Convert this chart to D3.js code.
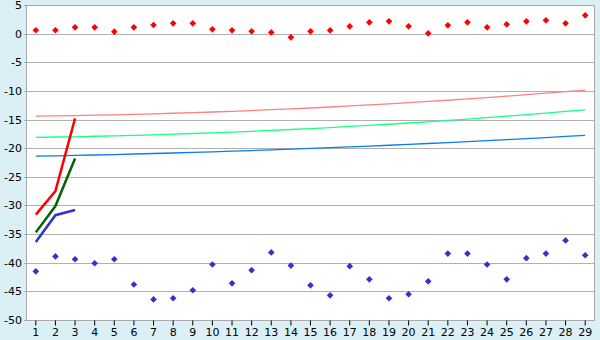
<!DOCTYPE html>
<html>
<head>
<meta charset="utf-8">
<script src="https://cdn.jsdelivr.net/npm/d3@7"></script>
<style>
  body { margin: 0; background: #daeff6; }
  svg { display: block; }
  text { font-family: "DejaVu Sans", Verdana, sans-serif; font-size: 11px; fill: #000; }
</style>
</head>
<body>
<div id="chart"></div>
<script>
// categories (x axis)
const days = d3.range(1, 30);

// y ticks
const yTicks = [5, 0, -5, -10, -15, -20, -25, -30, -35, -40, -45, -50];

// red diamond points (top series)
const redPoints = [0.6, 0.6, 1.1, 1.1, 0.35, 1.1, 1.5, 1.8, 1.8, 0.75,
  0.57, 0.4, 0.22, -0.65, 0.4, 0.57, 1.27, 1.97, 2.15, 1.27,
  0.05, 1.45, 1.97, 1.1, 1.62, 2.15, 2.32, 1.8, 3.2];

// blue diamond points (bottom series)
const bluePoints = [-41.5, -38.9, -39.4, -40.1, -39.4, -43.8, -46.4, -46.2, -44.8, -40.3,
  -43.6, -41.3, -38.2, -40.5, -43.95, -45.7, -40.6, -42.9, -46.2, -45.5,
  -43.25, -38.4, -38.4, -40.3, -42.9, -39.2, -38.4, -36.1, -38.7];

// thin trend lines
const redTrend = [-14.40, -14.35, -14.30, -14.24, -14.17, -14.09, -14.00, -13.90, -13.80, -13.68,
  -13.56, -13.43, -13.28, -13.13, -12.98, -12.81, -12.63, -12.45, -12.26, -12.05,
  -11.84, -11.63, -11.40, -11.16, -10.92, -10.66, -10.40, -10.13, -9.85];
const greenTrend = [-18.10, -18.05, -18.01, -17.92, -17.84, -17.76, -17.66, -17.56, -17.44, -17.32,
  -17.19, -17.05, -16.90, -16.74, -16.57, -16.40, -16.21, -16.02, -15.82, -15.60,
  -15.39, -15.16, -14.92, -14.67, -14.42, -14.15, -13.88, -13.59, -13.30];
const blueTrend = [-21.40, -21.33, -21.26, -21.19, -21.11, -21.02, -20.93, -20.84, -20.74, -20.63,
  -20.52, -20.41, -20.29, -20.17, -20.04, -19.91, -19.77, -19.63, -19.49, -19.33,
  -19.18, -19.02, -18.85, -18.68, -18.51, -18.33, -18.14, -17.95, -17.76];

// thick short lines (first three days)
const redShort = [-31.6, -27.5, -14.8];
const greenShort = [-34.7, -30.1, -21.8];
const blueShort = [-36.4, -31.7, -30.8];

const width = 600, height = 340;
const margin = { top: 5, right: 5, bottom: 20, left: 26 };

const svg = d3.select("#chart").append("svg")
  .attr("width", width)
  .attr("height", height);

// plot background
svg.append("rect")
  .attr("x", margin.left)
  .attr("y", margin.top)
  .attr("width", width - margin.left - margin.right)
  .attr("height", height - margin.top - margin.bottom)
  .attr("fill", "#fff");

const x = d3.scaleBand()
  .domain(days)
  .range([margin.left, width - margin.right]);

const y = d3.scaleLinear()
  .domain([-50, 5])
  .range([height - margin.bottom, margin.top]);

const cx = d => x(d) + x.bandwidth() / 2;

// grid lines
svg.append("g")
  .selectAll("line")
  .data(yTicks)
  .join("line")
  .attr("x1", margin.left - 2)
  .attr("x2", width - margin.right)
  .attr("y1", d => Math.round(y(d)) + 0.5)
  .attr("y2", d => Math.round(y(d)) + 0.5)
  .attr("stroke", "#b0b0b0");

// plot frame
svg.append("rect")
  .attr("x", margin.left + 0.5)
  .attr("y", Math.round(y(5)) + 0.5)
  .attr("width", width - margin.left - margin.right - 1)
  .attr("height", Math.round(y(-50)) - Math.round(y(5)))
  .attr("fill", "none")
  .attr("stroke", "#a8a8a8");

// y axis labels
svg.append("g")
  .attr("transform", `translate(${margin.left},0)`)
  .call(d3.axisLeft(y).tickValues(yTicks).tickSize(0).tickPadding(4)
    .tickFormat(d => String(d)))
  .call(g => g.select(".domain").remove())
  .selectAll("text")
  .style("font-size", "11px");

// x axis
svg.append("g")
  .attr("transform", `translate(0,${Math.round(y(-50)) + 0.5})`)
  .call(d3.axisBottom(x).tickSize(5).tickPadding(3).tickSizeOuter(0))
  .call(g => g.select(".domain").remove())
  .call(g => g.selectAll("line").attr("stroke", "#000"))
  .selectAll("text")
  .style("font-size", "11px");

const line = d3.line()
  .x((d, i) => cx(days[i]))
  .y(d => y(d));

// thin trend lines
[[redTrend, "#ff8080"], [greenTrend, "#19ff80"], [blueTrend, "#0a7cf0"]].forEach(([vals, col]) => {
  svg.append("path")
    .datum(vals)
    .attr("d", line)
    .attr("fill", "none")
    .attr("stroke", col)
    .attr("stroke-width", 1.3);
});

// thick short lines
[[redShort, "#ff0000"], [greenShort, "#006400"], [blueShort, "#3333cc"]].forEach(([vals, col]) => {
  svg.append("path")
    .datum(vals)
    .attr("d", line)
    .attr("fill", "none")
    .attr("stroke", col)
    .attr("stroke-width", 2.5);
});

// diamond markers
const diamond = d3.symbol().type(d3.symbolSquare).size(22);

[[redPoints, "#ff0000"], [bluePoints, "#3333cc"]].forEach(([vals, col]) => {
  svg.append("g")
    .selectAll("path")
    .data(vals)
    .join("path")
    .attr("d", diamond)
    .attr("transform", (d, i) => `translate(${cx(days[i])},${y(d)}) rotate(45)`)
    .attr("fill", col);
});
</script>
</body>
</html>
